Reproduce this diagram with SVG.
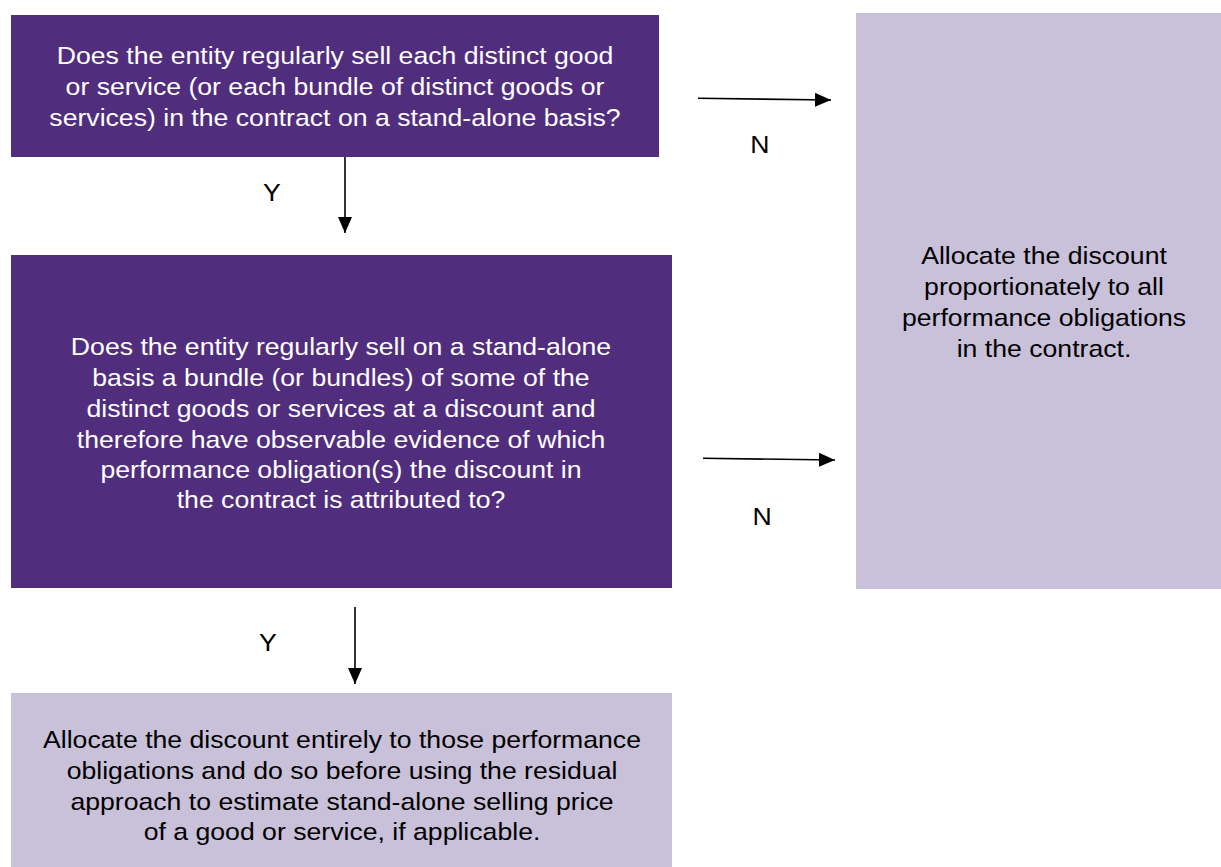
<svg xmlns="http://www.w3.org/2000/svg" width="1221" height="867" viewBox="0 0 1221 867">
<defs>
<style>
.dark{fill:#512D7E}
.light{fill:#C9C0DA}
.t{font-family:"Liberation Sans",Arial,sans-serif;font-size:24px;text-anchor:middle}
.w{fill:#FFFFFF}
.b{fill:#000000}
.c{stroke:#000;stroke-width:1.6;fill:none}
</style>
<marker id="ah2" viewBox="0 0 16 14" refX="16" refY="7" markerWidth="16" markerHeight="14" markerUnits="userSpaceOnUse" orient="auto">
<path d="M0,0 L16,7 L0,14 Z" fill="#000"/>
</marker>
</defs>
<rect width="1221" height="867" fill="#FFFFFF"/>
<g id="q1">
<rect class="dark" x="11" y="15" width="648" height="142"/>
<g transform="translate(335,0) scale(1.11,1)">
<text class="t w" x="0" y="64">Does the entity regularly sell each distinct good</text>
<text class="t w" x="0" y="95">or service (or each bundle of distinct goods or</text>
<text class="t w" x="0" y="126">services) in the contract on a stand-alone basis?</text>
</g>
</g>
<g id="q2">
<rect class="dark" x="11" y="255" width="661" height="333"/>
<g transform="translate(341,0) scale(1.11,1)">
<text class="t w" x="0" y="355">Does the entity regularly sell on a stand-alone</text>
<text class="t w" x="0" y="386">basis a bundle (or bundles) of some of the</text>
<text class="t w" x="0" y="417">distinct goods or services at a discount and</text>
<text class="t w" x="0" y="448">therefore have observable evidence of which</text>
<text class="t w" x="0" y="478">performance obligation(s) the discount in</text>
<text class="t w" x="0" y="508">the contract is attributed to?</text>
</g>
</g>
<g id="r1">
<rect class="light" x="856" y="13" width="365" height="576"/>
<g transform="translate(1044,0) scale(1.11,1)">
<text class="t b" x="0" y="264">Allocate the discount</text>
<text class="t b" x="0" y="295">proportionately to all</text>
<text class="t b" x="0" y="326">performance obligations</text>
<text class="t b" x="0" y="357">in the contract.</text>
</g>
</g>
<g id="r2">
<rect class="light" x="11" y="693" width="661" height="174"/>
<g transform="translate(342,0) scale(1.11,1)">
<text class="t b" x="0" y="748">Allocate the discount entirely to those performance</text>
<text class="t b" x="0" y="779">obligations and do so before using the residual</text>
<text class="t b" x="0" y="810">approach to estimate stand-alone selling price</text>
<text class="t b" x="0" y="840">of a good or service, if applicable.</text>
</g>
</g>
<g id="connectors">
<line class="c" x1="345" y1="157" x2="345" y2="233" marker-end="url(#ah2)"/>
<line class="c" x1="698" y1="98.3" x2="831" y2="100" marker-end="url(#ah2)"/>
<line class="c" x1="703" y1="458.3" x2="835" y2="460" marker-end="url(#ah2)"/>
<line class="c" x1="355" y1="607" x2="355" y2="684" marker-end="url(#ah2)"/>
<text class="t b" x="272" y="201" transform="translate(272,0) scale(1.11,1) translate(-272,0)">Y</text>
<text class="t b" x="760" y="153" transform="translate(760,0) scale(1.11,1) translate(-760,0)">N</text>
<text class="t b" x="762" y="525" transform="translate(762,0) scale(1.11,1) translate(-762,0)">N</text>
<text class="t b" x="268" y="651" transform="translate(268,0) scale(1.11,1) translate(-268,0)">Y</text>
</g>
</svg>
